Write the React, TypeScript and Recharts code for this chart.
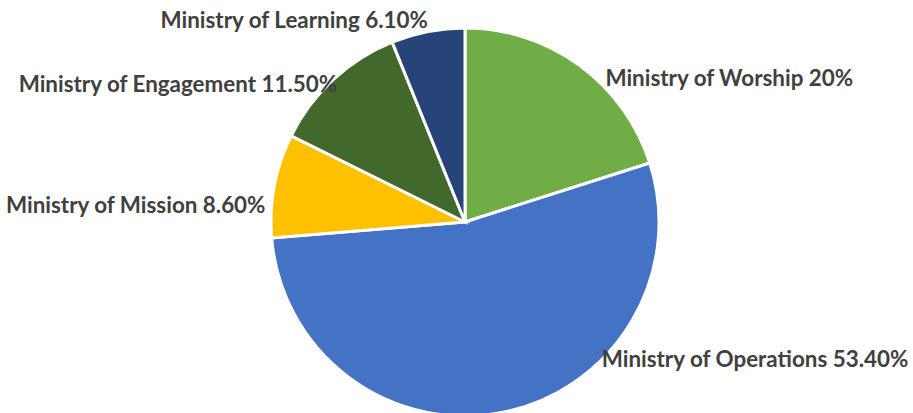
import React from 'react'
import { PieChart, Pie, Cell } from 'recharts'

// budget share by ministry, clockwise from 12 o'clock
const categories = [
	'Ministry of Worship',
	'Ministry of Operations',
	'Ministry of Mission',
	'Ministry of Engagement',
	'Ministry of Learning',
]
const shares = [20, 53.4, 8.6, 11.5, 6.1]
const shareLabels = ['20%', '53.40%', '8.60%', '11.50%', '6.10%']

const COLORS = ['#70AD47', '#4472C4', '#FFC000', '#43682B', '#264478']

// label placement relative to the slice's outer mid point (Excel "best fit")
const LABEL_PLACEMENT: Array<{ dx: number; dy: number; anchor: 'start' | 'end' }> = [
	{ dx: 26, dy: 12, anchor: 'start' },
	{ dx: 99, dy: -54, anchor: 'start' },
	{ dx: -9, dy: 19, anchor: 'end' },
	{ dx: 4, dy: 4, anchor: 'end' },
	{ dx: 0, dy: -12, anchor: 'end' },
]

const RADIAN = Math.PI / 180

const chartData = categories.map((name, i) => ({
	name,
	value: shares[i],
	label: shareLabels[i],
}))

function SliceLabel(props: any) {
	const { cx, cy, midAngle, outerRadius, index } = props
	const px = cx + outerRadius * Math.cos(-midAngle * RADIAN)
	const py = cy + outerRadius * Math.sin(-midAngle * RADIAN)
	const place = LABEL_PLACEMENT[index]
	return (
		<text
			x={px + place.dx}
			y={py + place.dy}
			textAnchor={place.anchor}
			dominantBaseline="central"
			fill="#404040"
			fontFamily="Lato, 'Noto Sans', sans-serif"
			fontWeight={700}
			fontSize={22.4}
		>
			{`${chartData[index].name} ${chartData[index].label}`}
		</text>
	)
}

export default function App() {
	return (
		<div style={{ position: 'absolute', left: 0, top: 0, width: 913, height: 413, background: '#fff' }}>
			<PieChart width={913} height={413} margin={{ top: 0, right: 0, bottom: 0, left: 0 }}>
				<Pie
					data={chartData}
					dataKey="value"
					nameKey="name"
					cx={465}
					cy={222}
					outerRadius={194}
					startAngle={90}
					endAngle={-270}
					stroke="#ffffff"
					strokeWidth={3}
					label={SliceLabel}
					labelLine={false}
					isAnimationActive={false}
				>
					{chartData.map((entry, index) => (
						<Cell key={`cell-${index}`} fill={COLORS[index]} />
					))}
				</Pie>
			</PieChart>
		</div>
	)
}
